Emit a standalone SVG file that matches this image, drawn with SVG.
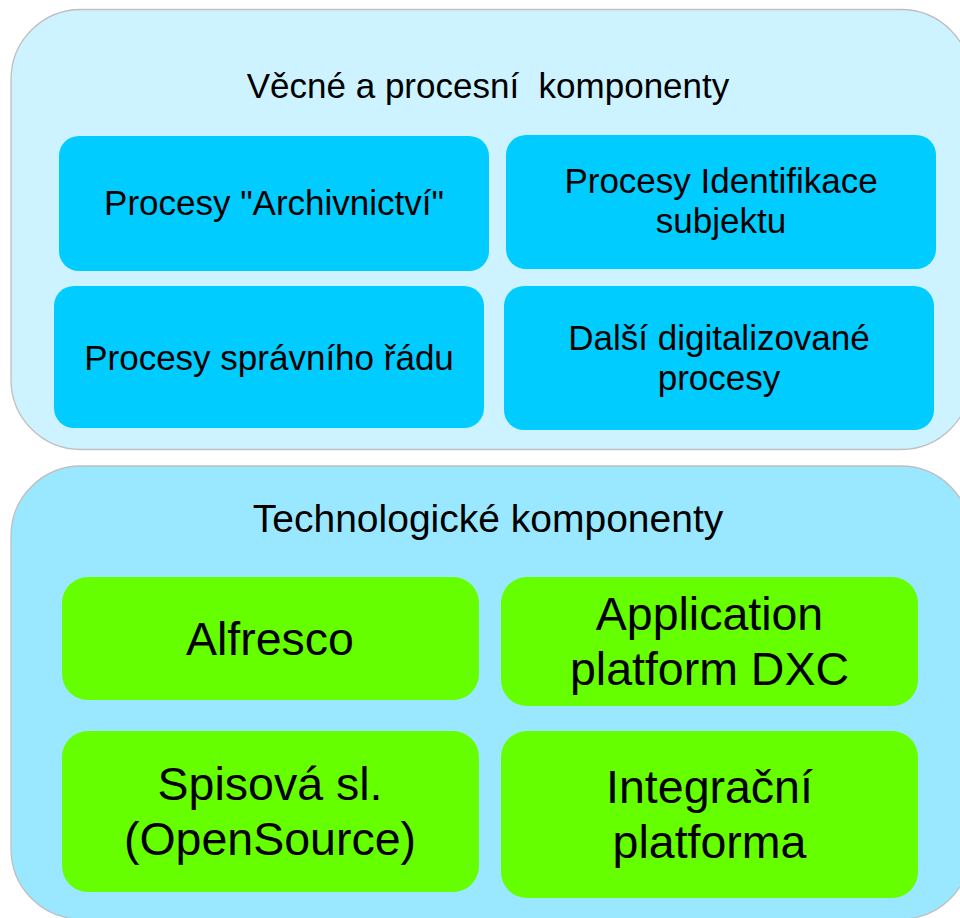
<svg xmlns="http://www.w3.org/2000/svg" width="960" height="918" viewBox="0 0 960 918">
<style>
.cont{stroke:#BFBFBF;stroke-width:1.3}
.top{fill:#CCF3FF}
.bot{fill:#99E8FF}
.blue{fill:#00CCFF}
.green{fill:#66FF00}
text{font-family:"Liberation Sans",Arial,sans-serif;fill:#000;text-anchor:middle;white-space:pre}
.t1{font-size:35px}
.t3{font-size:39px}
.t2{font-size:46.5px}
</style>
<rect width="960" height="918" fill="#FFFFFF"/>
<g id="veche">
<rect class="cont top" x="11" y="9.5" width="960" height="440" rx="70"/>
<text class="t1" x="488" y="98">Věcné a procesní  komponenty</text>
</g>
<g id="archivnictvi">
<rect class="blue" x="59" y="136" width="430" height="135" rx="20"/>
<text class="t1" x="274" y="215">Procesy "Archivnictví"</text>
</g>
<g id="identifikace">
<rect class="blue" x="506" y="135" width="430" height="134" rx="20"/>
<text class="t1" x="721" y="193">Procesy Identifikace</text>
<text class="t1" x="721" y="233">subjektu</text>
</g>
<g id="spravni">
<rect class="blue" x="54" y="286" width="430" height="142" rx="20"/>
<text class="t1" x="269" y="370">Procesy správního řádu</text>
</g>
<g id="dalsi">
<rect class="blue" x="504" y="286" width="430" height="144" rx="20"/>
<text class="t1" x="719" y="350">Další digitalizované</text>
<text class="t1" x="719" y="390">procesy</text>
</g>
<g id="technologicke">
<rect class="cont bot" x="11" y="466" width="960" height="453" rx="70"/>
<text class="t3" x="488" y="532">Technologické komponenty</text>
</g>
<g id="alfresco">
<rect class="green" x="62" y="577" width="417" height="123" rx="26"/>
<text class="t2" x="270" y="655">Alfresco</text>
</g>
<g id="dxc">
<rect class="green" x="501" y="577" width="417" height="129" rx="26"/>
<text class="t2" x="709.5" y="630">Application</text>
<text class="t2" x="709.5" y="685">platform DXC</text>
</g>
<g id="spisova">
<rect class="green" x="62" y="731" width="417" height="161" rx="26"/>
<text class="t2" x="270" y="800">Spisová sl.</text>
<text class="t2" x="270" y="855">(OpenSource)</text>
</g>
<g id="integracni">
<rect class="green" x="501" y="731" width="417" height="167" rx="26"/>
<text class="t2" x="709.5" y="803">Integrační</text>
<text class="t2" x="709.5" y="858">platforma</text>
</g>
<g id="connectors"/>
</svg>
